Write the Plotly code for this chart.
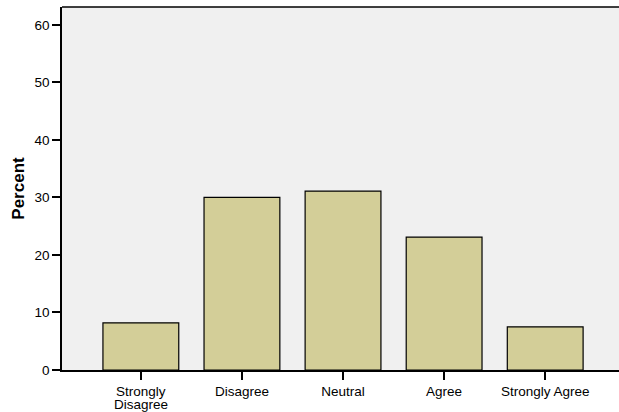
import plotly.graph_objects as go

categories = ["Strongly\nDisagree", "Disagree", "Neutral", "Agree", "Strongly Agree"]
percent = [8.2, 30.0, 31.1, 23.1, 7.5]
y_ticks = [0, 10, 20, 30, 40, 50, 60]

FONT = "Liberation Sans, Arial, sans-serif"
xs = list(range(len(categories)))

fig = go.Figure()
fig.add_trace(go.Bar(
    x=xs, y=percent,
    width=0.75,
    marker=dict(color="#d3ce98", line=dict(color="#000000", width=1.2)),
))

fig.update_layout(
    width=619, height=412,
    margin=dict(l=62, r=0, t=7, b=42),
    paper_bgcolor="white", plot_bgcolor="#f0f0f0",
    showlegend=False,
    font=dict(family=FONT, size=13.5, color="#000000"),
)
fig.update_xaxes(
    tickmode="array", tickvals=xs, ticktext=[c.split("\n")[0] for c in categories],
    range=[-0.78, 4.73],
    showgrid=False, zeroline=False,
    showline=True, linecolor="#000000", linewidth=1.5,
    ticks="outside", ticklen=8, tickcolor="#000000", tickwidth=1.5,
    tickfont=dict(size=13.5),
)
# continuation lines of wrapped category labels
for i, c in enumerate(categories):
    parts = c.split("\n")
    for k, line in enumerate(parts[1:], start=1):
        fig.add_annotation(x=i, y=0, xref="x", yref="y", text=line, showarrow=False,
                           yanchor="top", yshift=-13 - 13 * k, borderpad=0,
                           font=dict(family=FONT, size=13.5, color="#000000"))
fig.update_yaxes(
    range=[0, 63.1], tickvals=y_ticks,
    showgrid=False, zeroline=False,
    showline=True, linecolor="#000000", linewidth=1.5,
    ticks="outside", ticklen=8, tickcolor="#000000", tickwidth=1.5,
    tickfont=dict(size=13.5),
    title=dict(text="<b>Percent</b>", font=dict(size=17), standoff=6),
)
fig.add_shape(type="line", xref="paper", yref="paper", x0=0, x1=1, y0=1, y1=1,
              line=dict(color="#000000", width=1.5))

fig.write_html("out.html", config={"displayModeBar": False},
               post_script="document.body.style.margin='0';document.body.style.padding='0';")
